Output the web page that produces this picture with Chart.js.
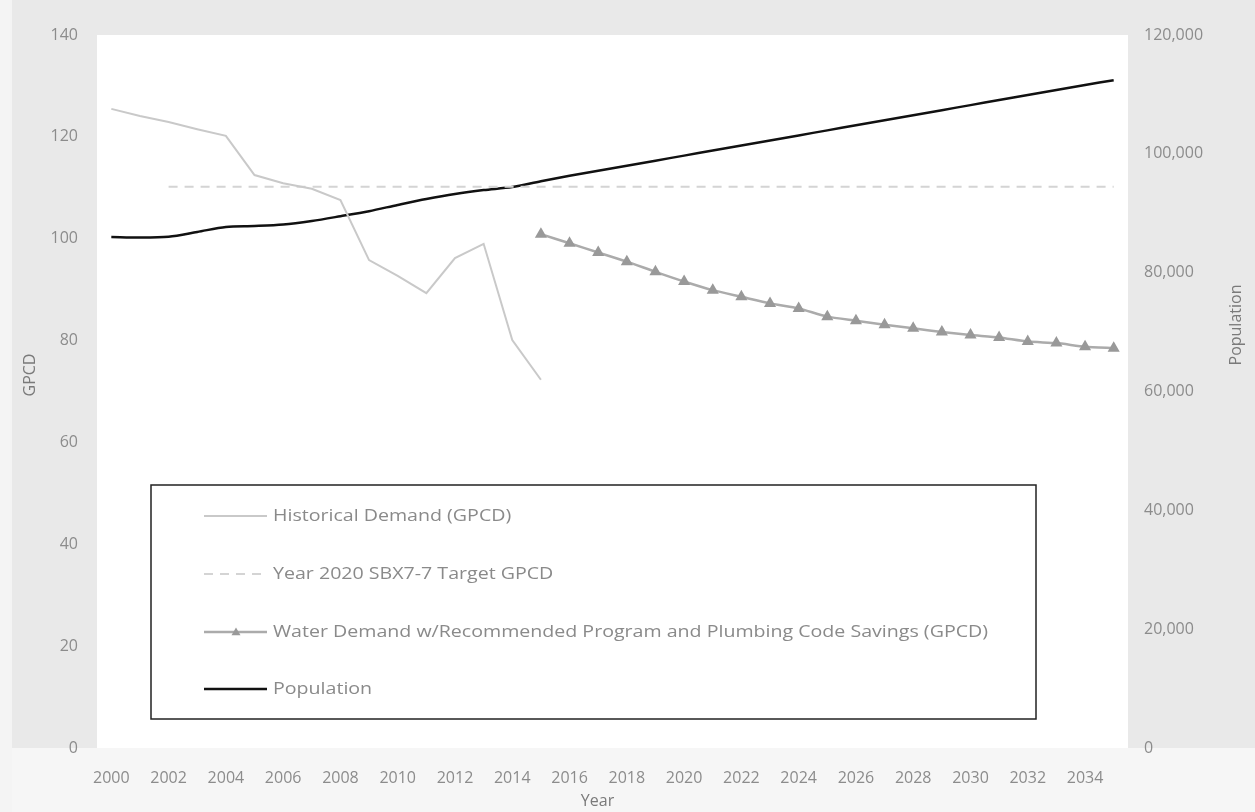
<!DOCTYPE html>
<html>
<head>
<meta charset="utf-8">
<script src="https://cdn.jsdelivr.net/npm/chart.js@4.4.1/dist/chart.umd.min.js"></script>
<style>
  html, body { margin: 0; padding: 0; background: #ededed; overflow: hidden; }
  #wrap { width: 1255px; height: 812px; position: relative; }
</style>
</head>
<body>
<div id="wrap"><canvas id="gpcdChart"></canvas></div>
<script>
// years on the category axis
const years = [];
for (let y = 2000; y <= 2035; y++) years.push(String(y));

// GPCD
const historicalGpcd = [125.5, 124.1, 122.9, 121.5, 120.2, 112.5, 110.9, 109.8, 107.6, 95.8,
  92.7, 89.3, 96.2, 99.0, 80.1, 72.3];
const targetGpcd = [null, null, 110.2, 110.2, 110.2, 110.2, 110.2, 110.2, 110.2, 110.2,
  110.2, 110.2, 110.2, 110.2, 110.2, 110.2, 110.2, 110.2, 110.2, 110.2,
  110.2, 110.2, 110.2, 110.2, 110.2, 110.2, 110.2, 110.2, 110.2, 110.2,
  110.2, 110.2, 110.2, 110.2, 110.2, 110.2];
const recommendedGpcd = [null, null, null, null, null, null, null, null, null, null,
  null, null, null, null, null,
  100.9, 99.1, 97.3, 95.5, 93.5, 91.6, 89.9, 88.6, 87.3, 86.3,
  84.7, 83.9, 83.1, 82.4, 81.7, 81.1, 80.6, 79.8, 79.5, 78.8, 78.5];
const population = [86000, 85900, 86050, 86850, 87700, 87850, 88100, 88700, 89500, 90350,
  91400, 92400, 93250, 93900, 94400, 95400, 96300, 97150, 98000, 98850,
  99700, 100550, 101400, 102250, 103100, 103950, 104800, 105650, 106500, 107350,
  108200, 109050, 109900, 110750, 111600, 112400];

const seriesNames = [
  'Historical Demand (GPCD)',
  'Year 2020 SBX7-7 Target GPCD',
  'Water Demand w/Recommended Program and Plumbing Code Savings (GPCD)',
  'Population'
];

const tickFont = { family: 'Open Sans', size: 16 };
const tickColor = '#8c8c8c';

// gray scan background with white plot area
const backdrop = {
  id: 'backdrop',
  beforeDraw(chart) {
    const { ctx, chartArea: a, width, height } = chart;
    ctx.save();
    ctx.fillStyle = '#e9e9e9';
    ctx.fillRect(0, 0, width, height);
    ctx.fillStyle = '#f6f6f6';
    ctx.fillRect(0, a.bottom, width, height - a.bottom);
    ctx.fillStyle = '#f4f4f4';
    ctx.fillRect(0, 0, 12, height);
    ctx.fillStyle = '#ffffff';
    ctx.fillRect(a.left, a.top, a.right - a.left, a.bottom - a.top);
    ctx.restore();
  }
};

// axis titles
const axisTitles = {
  id: 'axisTitles',
  afterDraw(chart) {
    const { ctx, chartArea: a } = chart;
    ctx.save();
    ctx.fillStyle = '#7a7a7a';
    ctx.font = '16px "Open Sans"';
    ctx.textAlign = 'center';
    ctx.textBaseline = 'middle';
    ctx.fillText('Year', (a.left + a.right) / 2 - 15, 801);
    ctx.translate(30, 375);
    ctx.rotate(-Math.PI / 2);
    ctx.fillText('GPCD', 0, 0);
    ctx.restore();
    ctx.save();
    ctx.fillStyle = '#7a7a7a';
    ctx.font = '16px "Open Sans"';
    ctx.textAlign = 'center';
    ctx.textBaseline = 'middle';
    ctx.translate(1236, 325);
    ctx.rotate(-Math.PI / 2);
    ctx.fillText('Population', 0, 0);
    ctx.restore();
  }
};

// boxed legend sitting inside the plot
const boxLegend = {
  id: 'boxLegend',
  afterDatasetsDraw(chart) {
    const { ctx, chartArea: a } = chart;
    const x0 = a.left + 54, y0 = 485, w = 885, h = 234;
    ctx.save();
    ctx.fillStyle = '#ffffff';
    ctx.fillRect(x0, y0, w, h);
    ctx.strokeStyle = '#222';
    ctx.lineWidth = 1.5;
    ctx.strokeRect(x0, y0, w, h);
    const rows = [516, 574, 632, 689];
    ctx.font = '16px "Open Sans"';
    ctx.textBaseline = 'middle';
    // the scan is stretched sideways; widen text to match
    const sx = 715 / ctx.measureText(seriesNames[2]).width;
    chart.data.datasets.forEach((ds, i) => {
      const y = rows[i];
      ctx.save();
      ctx.strokeStyle = ds.borderColor;
      ctx.lineWidth = ds.borderWidth;
      ctx.setLineDash(ds.borderDash || []);
      ctx.beginPath();
      ctx.moveTo(x0 + 53, y);
      ctx.lineTo(x0 + 116, y);
      ctx.stroke();
      ctx.restore();
      if (ds.pointRadius > 0) {
        const cx = x0 + 85, r = 4.5;
        ctx.fillStyle = ds.pointBackgroundColor;
        ctx.beginPath();
        ctx.moveTo(cx, y - r);
        ctx.lineTo(cx + r, y + r * 0.7);
        ctx.lineTo(cx - r, y + r * 0.7);
        ctx.closePath();
        ctx.fill();
      }
      ctx.save();
      ctx.translate(x0 + 122, y);
      ctx.scale(sx, 1);
      ctx.fillStyle = '#8a8a8a';
      ctx.fillText(ds.label, 0, 0);
      ctx.restore();
    });
    ctx.restore();
  }
};

new Chart(document.getElementById('gpcdChart'), {
  type: 'line',
  plugins: [backdrop, boxLegend, axisTitles],
  data: {
    labels: years,
    datasets: [{
      label: seriesNames[0],
      data: historicalGpcd,
      yAxisID: 'y',
      borderColor: '#c9c9c9',
      borderWidth: 2,
      pointRadius: 0,
      tension: 0
    }, {
      label: seriesNames[1],
      data: targetGpcd,
      yAxisID: 'y',
      borderColor: '#d4d4d4',
      borderWidth: 2,
      borderDash: [9, 7],
      pointRadius: 0
    }, {
      label: seriesNames[2],
      data: recommendedGpcd,
      yAxisID: 'y',
      borderColor: '#ababab',
      borderWidth: 2.5,
      pointStyle: 'triangle',
      pointRadius: 4.5,
      pointBackgroundColor: '#999999',
      pointBorderColor: '#999999',
      tension: 0.2
    }, {
      label: seriesNames[3],
      data: population,
      yAxisID: 'y1',
      borderColor: '#111111',
      borderWidth: 2.5,
      pointRadius: 0,
      tension: 0.3
    }]
  },
  options: {
    responsive: true,
    maintainAspectRatio: false,
    animation: false,
    layout: { padding: { top: 35, left: 0, right: 0, bottom: 0 } },
    plugins: {
      legend: { display: false },
      tooltip: { enabled: false }
    },
    scales: {
      x: {
        offset: true,
        grid: { display: false, drawTicks: false },
        border: { display: false },
        ticks: {
          autoSkip: false,
          maxRotation: 0,
          padding: 21,
          color: tickColor,
          font: tickFont,
          callback: function(value, i) {
            return i % 2 === 0 && i < 35 ? this.getLabelForValue(value) : '';
          }
        },
        afterFit(scale) { scale.height = 64; }
      },
      y: {
        position: 'left',
        min: 0,
        max: 140,
        grid: { display: false, drawTicks: false },
        border: { display: false },
        ticks: { stepSize: 20, padding: 19, color: tickColor, font: tickFont },
        afterFit(scale) { scale.width = 97; }
      },
      y1: {
        position: 'right',
        min: 0,
        max: 120000,
        grid: { display: false, drawTicks: false },
        border: { display: false },
        ticks: {
          stepSize: 20000,
          padding: 16,
          color: tickColor,
          font: tickFont,
          callback: v => v.toLocaleString('en-US')
        },
        afterFit(scale) { scale.width = 127; }
      }
    }
  }
});
</script>
</body>
</html>
